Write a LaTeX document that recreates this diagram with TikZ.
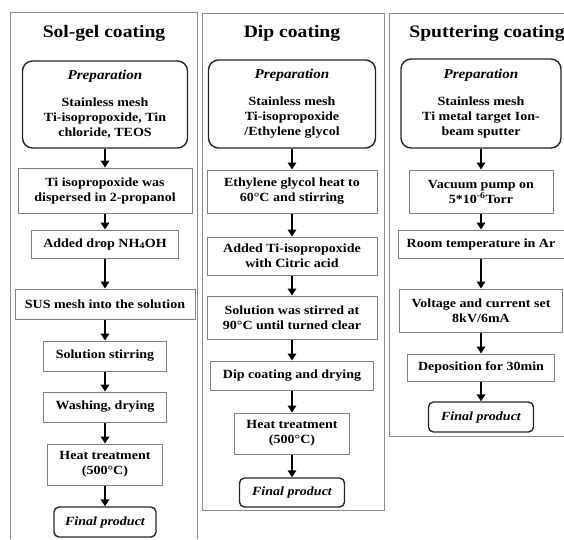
\documentclass[tikz,border=0pt]{standalone}
\usepackage{fontspec}
\setmainfont{Liberation Serif}[FakeStretch=1.12]
\usetikzlibrary{arrows.meta}

\tikzset{
  frame/.style={draw=black!45, line width=0.8pt},
  title/.style={font=\fontsize{17.5}{20}\selectfont\bfseries},
  stepbox/.style={draw=black!50, line width=1pt, fill=white, align=center,
    inner sep=0pt, font=\fontsize{12.5}{15}\selectfont\bfseries},
  prepbox/.style={stepbox, draw=black!85, line width=1.4pt, rounded corners=10pt},
  endbox/.style={stepbox, draw=black!85, line width=1.4pt, rounded corners=5pt,
    font=\fontsize{12.5}{15}\selectfont\bfseries\itshape},
  flow/.style={-{Triangle[length=7pt,width=8.5pt]}, line width=2.4pt, black},
}
\newcommand{\prepline}{{\fontsize{13.5}{15}\selectfont\textit{Preparation}}\\[12pt]}

\begin{document}
\begin{tikzpicture}[x=1pt,y=-1pt]
        \useasboundingbox (0,0) rectangle (564,539);
        % frames
        \draw[frame] (10,539)--(10,12)--(197,12)--(197,539);
        \draw[frame] (202,13) rectangle (384,510);
        \draw[frame] (566,436)--(389,436)--(389,13)--(566,13);
        \node[title] (t1) at (104,33) {Sol-gel coating};
        \node[title] (t2) at (292,33) {Dip coating};
        \node[title] (t3) at (487,33) {Sputtering coating};
        % sol-gel
        \node[prepbox, minimum width=165, minimum height=87] (prep1) at (105,104.5)
          {\prepline Stainless mesh\\Ti-isopropoxide, Tin\\chloride, TEOS};
        \node[stepbox, minimum width=174, minimum height=45] (s11) at (105,190.5)
          {Ti isopropoxide was\\dispersed in 2-propanol};
        \node[stepbox, minimum width=147, minimum height=28] (s12) at (105,244)
          {Added drop NH\textsubscript{4}OH};
        \node[stepbox, minimum width=180, minimum height=30] (s13) at (105,304)
          {SUS mesh into the solution};
        \node[stepbox, minimum width=123, minimum height=30] (s14) at (105,356)
          {Solution stirring};
        \node[stepbox, minimum width=123, minimum height=30] (s15) at (105,407)
          {Washing, drying};
        \node[stepbox, minimum width=115, minimum height=41] (s16) at (105,464.5)
          {Heat treatment\\(500°C)};
        \node[endbox, minimum width=102, minimum height=30] (end1) at (105,522)
          {Final product};
        % dip
        \node[prepbox, minimum width=167, minimum height=88] (prep2) at (292,104)
          {\prepline Stainless mesh\\Ti-isopropoxide\\/Ethylene glycol};
        \node[stepbox, minimum width=170, minimum height=43] (s21) at (292,191.5)
          {Ethylene glycol heat to\\60°C and stirring};
        \node[stepbox, minimum width=170, minimum height=38] (s22) at (292,256)
          {Added Ti-isopropoxide\\with Citric acid};
        \node[stepbox, minimum width=170, minimum height=43] (s23) at (292,317.5)
          {Solution was stirred at\\90°C until turned clear};
        \node[stepbox, minimum width=163, minimum height=29] (s24) at (292,375.5)
          {Dip coating and drying};
        \node[stepbox, minimum width=115, minimum height=41] (s25) at (292,433.5)
          {Heat treatment\\(500°C)};
        \node[endbox, minimum width=105, minimum height=29] (end2) at (292,492.5)
          {Final product};
        % sputtering
        \node[prepbox, minimum width=160, minimum height=89] (prep3) at (481,103.5)
          {\prepline Stainless mesh\\Ti metal target Ion-\\beam sputter};
        \node[stepbox, minimum width=144, minimum height=43] (s31) at (481,191.5)
          {Vacuum pump on\\5*10\textsuperscript{-6}Torr};
        \node[stepbox, minimum width=166, minimum height=28] (s32) at (481,244)
          {Room temperature in Ar};
        \node[stepbox, minimum width=163, minimum height=43] (s33) at (481,310.5)
          {Voltage and current set\\8kV/6mA};
        \node[stepbox, minimum width=147, minimum height=27] (s34) at (481,367.5)
          {Deposition for 30min};
        \node[endbox, minimum width=105, minimum height=30] (end3) at (481,417)
          {Final product};
        % arrows
        \foreach \a/\b in {prep1/s11,s11/s12,s12/s13,s13/s14,s14/s15,s15/s16,s16/end1,
                           prep2/s21,s21/s22,s22/s23,s23/s24,s24/s25,s25/end2,
                           prep3/s31,s31/s32,s32/s33,s33/s34,s34/end3}
          \draw[flow] (\a) -- (\b);
      \end{tikzpicture}
\end{document}
